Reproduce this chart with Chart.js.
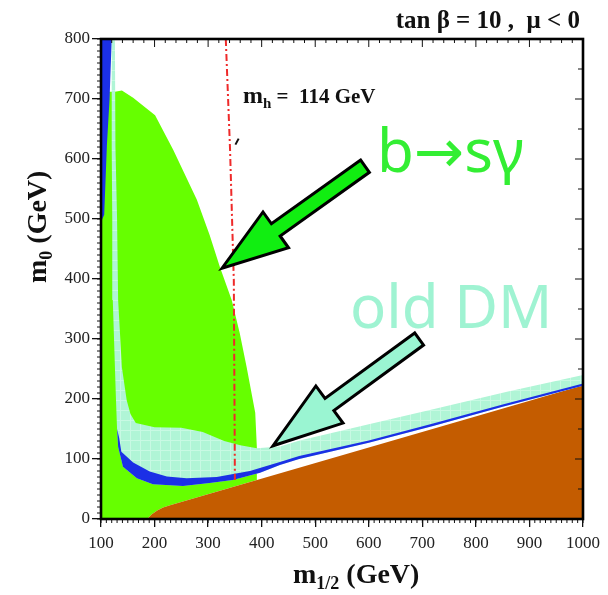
<!DOCTYPE html>
<html><head><meta charset="utf-8">
<script src="https://cdn.jsdelivr.net/npm/chart.js@4/dist/chart.umd.min.js"></script>
<style>html,body{margin:0;padding:0;background:#fff;}#wrap{width:608px;height:595px;position:relative;}</style>
</head><body><div id="wrap"><canvas id="c"></canvas></div>
<script>
// ---- data (m1/2 in GeV on x, m0 in GeV on y) ----
const xTickValues = [100,200,300,400,500,600,700,800,900,1000];
const yTickValues = [0,100,200,300,400,500,600,700,800];

// b -> s gamma excluded region
const bsgM12 = [100,186,195,205,216,229,391,391,388,372,359,344,322,303,279,235,201,160,139,126,100];
const bsgM0  = [0,0,8,14,19,23,65,120,177,253,310,365,420,473,532,615,673,702,714,712,712];

// charged LSP (stau) region
const lspM12 = [186,195,205,216,229,1000,1000];
const lspM0  = [0,8,14,19,23,223,0];

// old dark-matter preferred band
const dmM12 = [121,126,127,130,132,139,148,155,165,200,250,290,330,360,391,434,471,600,720,858,1000,
               1000,850,720,600,470,434,397,346,303,253,197,167,141,132,130,128,126,122,121,120,120];
const dmM0  = [800,800,620,500,365,253,198,175,160,153,152,145,130,123,118,121,131,158,183,212,240,
               222,187,155,127,100,90,77,65,60,55,58,68,87,120,150,198,253,365,500,620,800];

// new (WMAP) dark-matter band, lower part
const wmapLowM12 = [130,132,141,167,197,253,303,346,397,434,470,600,720,850,1000,
                    1000,850,720,600,470,434,378,316,260,223,191,160,138,134];
const wmapLowM0  = [150,120,87,68,58,55,60,65,77,90,100,127,155,187,222,
                    226,191,159,131,105,95,80,70,68,71,79,94,112,135];
// new dark-matter band, upper-left part
const wmapTopM12 = [102,120,116,111,106,100,100];
const wmapTopM0  = [800,800,700,623,507,495,800];

// m_h = 114 GeV contour
const mhM12 = [333,341,348,350];
const mhM0  = [800,615,398,65];
// label pointer mark
const markM12 = [351,357];
const markM0  = [624,634];

// annotation arrows (tail -> tip, data coords)
const arrowBsgFrom = [593,588], arrowBsgTo = [326,418];
const arrowDmFrom  = [694,300], arrowDmTo  = [421,122];

// ---- helpers ----
function pts(xs, ys){ return xs.map((x,i)=>({x:x, y:ys[i]})); }

function makePattern(){
  const c = document.createElement('canvas'); c.width = 10; c.height = 10;
  const g = c.getContext('2d');
  g.fillStyle = '#b0f5d6'; g.fillRect(0,0,10,10);
  g.fillStyle = '#c8f9e3'; g.fillRect(0,0,10,1); g.fillRect(0,0,1,10);
  return document.getElementById('c').getContext('2d').createPattern(c,'repeat');
}

function shape(data, color, order){
  return {type:'line', data:data, fill:'shape', backgroundColor:color, borderColor:'rgba(0,0,0,0)',
          borderWidth:0, pointRadius:0, tension:0, order:order};
}

const datasets = [
  {type:'line', data:pts(mhM12,mhM0), borderColor:'#ee2a2a', borderWidth:2, borderDash:[7,3,2,3],
   fill:false, pointRadius:0, tension:0, order:0},
  {type:'line', data:pts(markM12,markM0), borderColor:'#111', borderWidth:2,
   fill:false, pointRadius:0, tension:0, order:0},
  shape(pts(wmapLowM12,wmapLowM0), '#1b30e6', 1),
  shape(pts(wmapTopM12,wmapTopM0), '#1b30e6', 1),
  shape(pts(dmM12,dmM0), makePattern(), 2),
  shape(pts(lspM12,lspM0), '#c45c00', 3),
  shape(pts(bsgM12,bsgM0), '#66ff00', 4)
];

function subText(ctx, parts, x, y){
  let cx = x;
  for (const p of parts){ ctx.font = p[1]; ctx.fillText(p[0], cx, y + (p[2]||0)); cx += ctx.measureText(p[0]).width; }
}

function drawArrow(ctx, x0, y0, x1, y1, shaftHalf, headLen, headHalf, fill){
  const dx = x1-x0, dy = y1-y0, L = Math.hypot(dx,dy);
  const ux = dx/L, uy = dy/L, nx = -uy, ny = ux;
  const bx = x1 - ux*headLen, by = y1 - uy*headLen;
  ctx.beginPath();
  ctx.moveTo(x0 + nx*shaftHalf, y0 + ny*shaftHalf);
  ctx.lineTo(bx + nx*shaftHalf, by + ny*shaftHalf);
  ctx.lineTo(bx + nx*headHalf, by + ny*headHalf);
  ctx.lineTo(x1, y1);
  ctx.lineTo(bx - nx*headHalf, by - ny*headHalf);
  ctx.lineTo(bx - nx*shaftHalf, by - ny*shaftHalf);
  ctx.lineTo(x0 - nx*shaftHalf, y0 - ny*shaftHalf);
  ctx.closePath();
  ctx.fillStyle = fill; ctx.fill();
  ctx.lineWidth = 3; ctx.lineJoin = 'miter'; ctx.strokeStyle = '#000'; ctx.stroke();
}

const decor = {
  id:'decor',
  afterDatasetsDraw(chart){
    const ctx = chart.ctx, a = chart.chartArea, xs = chart.scales.x, ys = chart.scales.y;
    ctx.save();
    // minor ticks
    ctx.strokeStyle = '#111'; ctx.lineWidth = 1;
    ctx.beginPath();
    for (let v = 0; v <= 800; v += 10){ const p = ys.getPixelForValue(v); ctx.moveTo(a.left-4, p); ctx.lineTo(a.left, p); }
    for (let v = 100; v <= 1000; v += 10){ const p = xs.getPixelForValue(v); ctx.moveTo(p, a.bottom); ctx.lineTo(p, a.bottom+4); }
    for (let v = 100; v <= 1000; v += 20){ const p = xs.getPixelForValue(v); const l = (v%100===0)?8:4; ctx.moveTo(p, a.top); ctx.lineTo(p, a.top+l); }
    for (let v = 0; v <= 800; v += 50){ const p = ys.getPixelForValue(v); const l = (v%100===0)?8:5; ctx.moveTo(a.right, p); ctx.lineTo(a.right-l, p); }
    ctx.stroke();
    // frame
    ctx.lineWidth = 2.6; ctx.strokeStyle = '#000';
    ctx.strokeRect(a.left, a.top, a.right-a.left, a.bottom-a.top);

    // arrows
    drawArrow(ctx, xs.getPixelForValue(arrowBsgFrom[0]), ys.getPixelForValue(arrowBsgFrom[1]),
              xs.getPixelForValue(arrowBsgTo[0]), ys.getPixelForValue(arrowBsgTo[1]), 7.5, 66, 22, '#11ee11');
    drawArrow(ctx, xs.getPixelForValue(arrowDmFrom[0]), ys.getPixelForValue(arrowDmFrom[1]),
              xs.getPixelForValue(arrowDmTo[0]), ys.getPixelForValue(arrowDmTo[1]), 7.5, 70, 23, '#9af5d2');

    // texts
    ctx.fillStyle = '#111'; ctx.textBaseline = 'alphabetic'; ctx.textAlign = 'left';
    subText(ctx, [['m','bold 24px "Liberation Serif"',0],['h','bold 15px "Liberation Serif"',5],
                  [' =  114 GeV','bold 21px "Liberation Serif"',0]], 243, 103);
    ctx.textAlign = 'right';
    ctx.font = 'bold 25px "Liberation Serif"';
    ctx.fillText('tan \u03b2 = 10 ,  \u03bc < 0', 580, 28);
    ctx.textAlign = 'left';
    ctx.fillStyle = '#33ee33';
    ctx.font = '60px "Noto Sans", "DejaVu Sans"';
    ctx.fillText('b\u2192s\u03b3', 377, 172, 155);
    ctx.fillStyle = '#9ff3d2';
    ctx.font = '60px "Noto Sans", "DejaVu Sans"';
    ctx.fillText('old DM', 350, 328, 206);

    // axis titles
    ctx.fillStyle = '#111';
    subText(ctx, [['m','bold 28px "Liberation Serif"',0],['1/2','bold 18px "Liberation Serif"',6],
                  [' (GeV)','bold 28px "Liberation Serif"',0]], 293, 583);
    ctx.translate(46, 283); ctx.rotate(-Math.PI/2);
    subText(ctx, [['m','bold 28px "Liberation Serif"',0],['0','bold 18px "Liberation Serif"',6],
                  [' (GeV)','bold 28px "Liberation Serif"',0]], 0, 0);
    ctx.restore();
  }
};

new Chart(document.getElementById('c'), {
  type:'line',
  data:{datasets:datasets},
  options:{
    responsive:true, maintainAspectRatio:false, animation:false,
    events:[],
    layout:{padding:{top:39, right:25, left:0, bottom:0}},
    plugins:{legend:{display:false}, tooltip:{enabled:false}},
    scales:{
      x:{type:'linear', min:100, max:1000,
         afterFit(s){ s.height = 76; },
         afterBuildTicks(s){ s.ticks = xTickValues.map(v=>({value:v})); },
         border:{display:false},
         grid:{display:true, drawOnChartArea:false, drawTicks:true, tickLength:8, color:'#111', lineWidth:1.3},
         ticks:{autoSkip:false, maxRotation:0, padding:6, color:'#222', callback:(v)=>String(v),
                font:{family:'"Liberation Serif"', size:17}}},
      y:{type:'linear', min:0, max:800,
         afterFit(s){ s.width = 101; },
         afterBuildTicks(s){ s.ticks = yTickValues.map(v=>({value:v})); },
         border:{display:false},
         grid:{display:true, drawOnChartArea:false, drawTicks:true, tickLength:9, color:'#111', lineWidth:1.3},
         ticks:{autoSkip:false, padding:2, color:'#222', callback:(v)=>String(v),
                font:{family:'"Liberation Serif"', size:17}}}
    }
  },
  plugins:[decor]
});
</script></body></html>
